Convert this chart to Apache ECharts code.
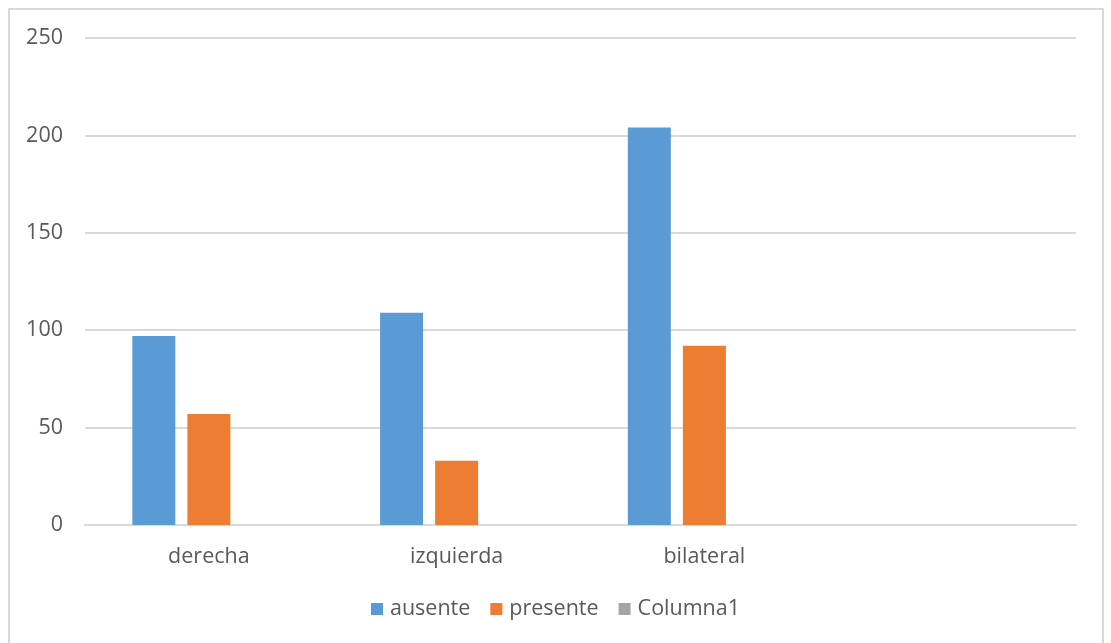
<!DOCTYPE html>
<html>
<head>
<meta charset="utf-8">
<script src="https://cdn.jsdelivr.net/npm/echarts@6/dist/echarts.min.js"></script>
<style>
html,body{margin:0;padding:0;background:#fff;}
#frame{position:absolute;left:8px;top:8px;width:1096px;height:700px;border:2px solid #d9d9d9;box-sizing:border-box;}
#chart{position:absolute;left:0;top:0;width:1111px;height:643px;}
</style>
</head>
<body>
<div id="frame"></div>
<div id="chart"></div>
<script>
const categories = ['derecha', 'izquierda', 'bilateral', ''];
const seriesNames = ['ausente', 'presente', 'Columna1'];
const ausente = [97, 109, 204, null];
const presente = [57, 33, 92, null];
const columna1 = [null, null, null, null];
const yTicks = [0, 50, 100, 150, 200, 250];

const colors = ['#5b9bd5', '#ed7d31', '#a5a5a5'];
const font = 'Open Sans, Liberation Sans, sans-serif';

const chart = echarts.init(document.getElementById('chart'));
chart.setOption({
  animation: false,
  color: colors,
  grid: {left: 85, right: 35, top: 38, bottom: 118, containLabel: false},
  legend: {
    data: seriesNames,
    bottom: 18,
    left: 'center',
    itemWidth: 12,
    itemHeight: 12,
    itemGap: 20,
    icon: 'rect',
    textStyle: {color: '#595959', fontSize: 21.5, fontFamily: font, padding: [0,0,0,2]}
  },
  xAxis: {
    type: 'category',
    data: categories,
    axisLine: {lineStyle: {color: '#d9d9d9', width: 2}},
    axisTick: {show: false},
    axisLabel: {color: '#595959', fontSize: 21.5, fontFamily: font, margin: 21}
  },
  yAxis: {
    type: 'value',
    min: yTicks[0],
    max: yTicks[yTicks.length - 1],
    interval: 50,
    axisLine: {show: false},
    axisTick: {show: false},
    splitLine: {lineStyle: {color: '#d9d9d9', width: 2}},
    axisLabel: {color: '#595959', fontSize: 21.5, fontFamily: font, margin: 22}
  },
  series: [
    {name: seriesNames[0], type: 'bar', data: ausente, barWidth: 43, barGap: '28%'},
    {name: seriesNames[1], type: 'bar', data: presente, barWidth: 43, barGap: '28%'},
    {name: seriesNames[2], type: 'bar', data: columna1, barWidth: 43, barGap: '28%'}
  ]
});
</script>
</body>
</html>
